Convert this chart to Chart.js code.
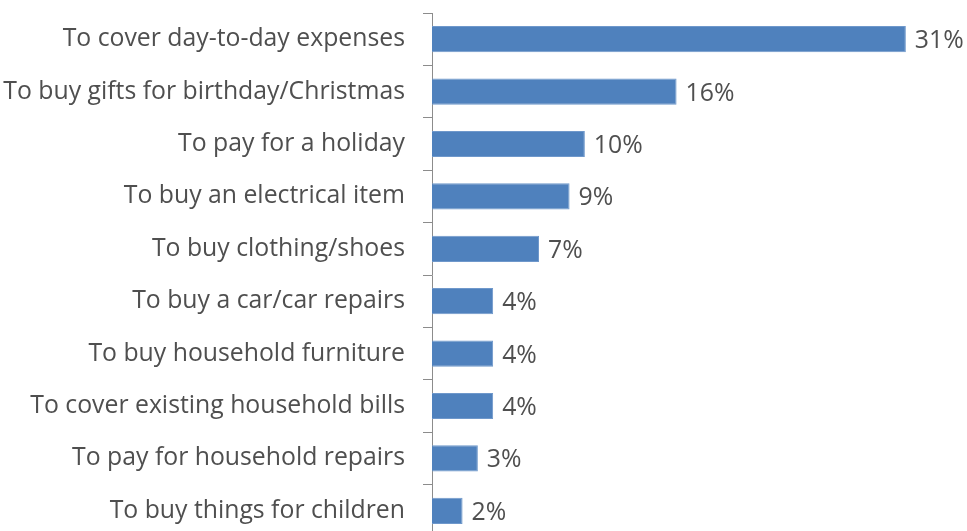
<!DOCTYPE html>
<html>
<head>
<meta charset="utf-8">
<script src="https://cdn.jsdelivr.net/npm/chart.js@4"></script>
<style>
  html, body { margin: 0; padding: 0; background: #fff; overflow: hidden; }
  #wrap { width: 967px; height: 531px; overflow: hidden; }
  canvas { display: block; }
</style>
</head>
<body>
<div id="wrap"><canvas id="c" width="967" height="540"></canvas></div>
<script>
const categories = [
  "To cover day-to-day expenses",
  "To buy gifts for birthday/Christmas",
  "To pay for a holiday",
  "To buy an electrical item",
  "To buy clothing/shoes",
  "To buy a car/car repairs",
  "To buy household furniture",
  "To cover existing household bills",
  "To pay for household repairs",
  "To buy things for children"
];
const shares = [31, 16, 10, 9, 7, 4, 4, 4, 3, 2];
const valueLabels = ["31%", "16%", "10%", "9%", "7%", "4%", "4%", "4%", "3%", "2%"];

const textColor = "#4F4F4F";
const fontFamily = "'Open Sans', 'Noto Sans', sans-serif";
const fontSize = 24.8;

// Writes the percentage beside the end of each bar
const valueLabelPlugin = {
  id: "valueLabels",
  afterDatasetsDraw(chart) {
    const ctx = chart.ctx;
    const meta = chart.getDatasetMeta(0);
    ctx.save();
    ctx.fillStyle = textColor;
    ctx.font = fontSize + "px " + fontFamily;
    ctx.textAlign = "left";
    ctx.textBaseline = "middle";
    meta.data.forEach((bar, i) => {
      ctx.fillText(valueLabels[i], bar.x + 9, bar.y + 2);
    });
    ctx.restore();
  }
};

new Chart(document.getElementById("c"), {
  type: "bar",
  data: {
    labels: categories,
    datasets: [{
      data: shares,
      backgroundColor: "#4F81BD",
      borderColor: "#6F98CB",
      borderWidth: 1,
      barPercentage: 0.5,
      categoryPercentage: 1.0
    }]
  },
  options: {
    indexAxis: "y",
    responsive: false,
    animation: false,
    devicePixelRatio: 1,
    layout: { padding: { top: 13, bottom: 3, left: 0, right: 0 } },
    plugins: {
      legend: { display: false },
      tooltip: { enabled: false }
    },
    scales: {
      x: {
        display: false,
        min: 0,
        max: 35
      },
      y: {
        afterFit(scale) {
          scale.width = 432;
          scale.paddingTop = 0;
          scale.paddingBottom = 0;
        },
        border: { display: true, color: "#8C8C8C", width: 1 },
        grid: {
          display: true,
          drawOnChartArea: false,
          drawTicks: true,
          tickLength: 9,
          color: "#8C8C8C",
          offset: true
        },
        ticks: {
          color: textColor,
          font: { family: fontFamily, size: fontSize },
          padding: 18,
          autoSkip: false
        }
      }
    }
  },
  plugins: [valueLabelPlugin]
});
</script>
</body>
</html>
